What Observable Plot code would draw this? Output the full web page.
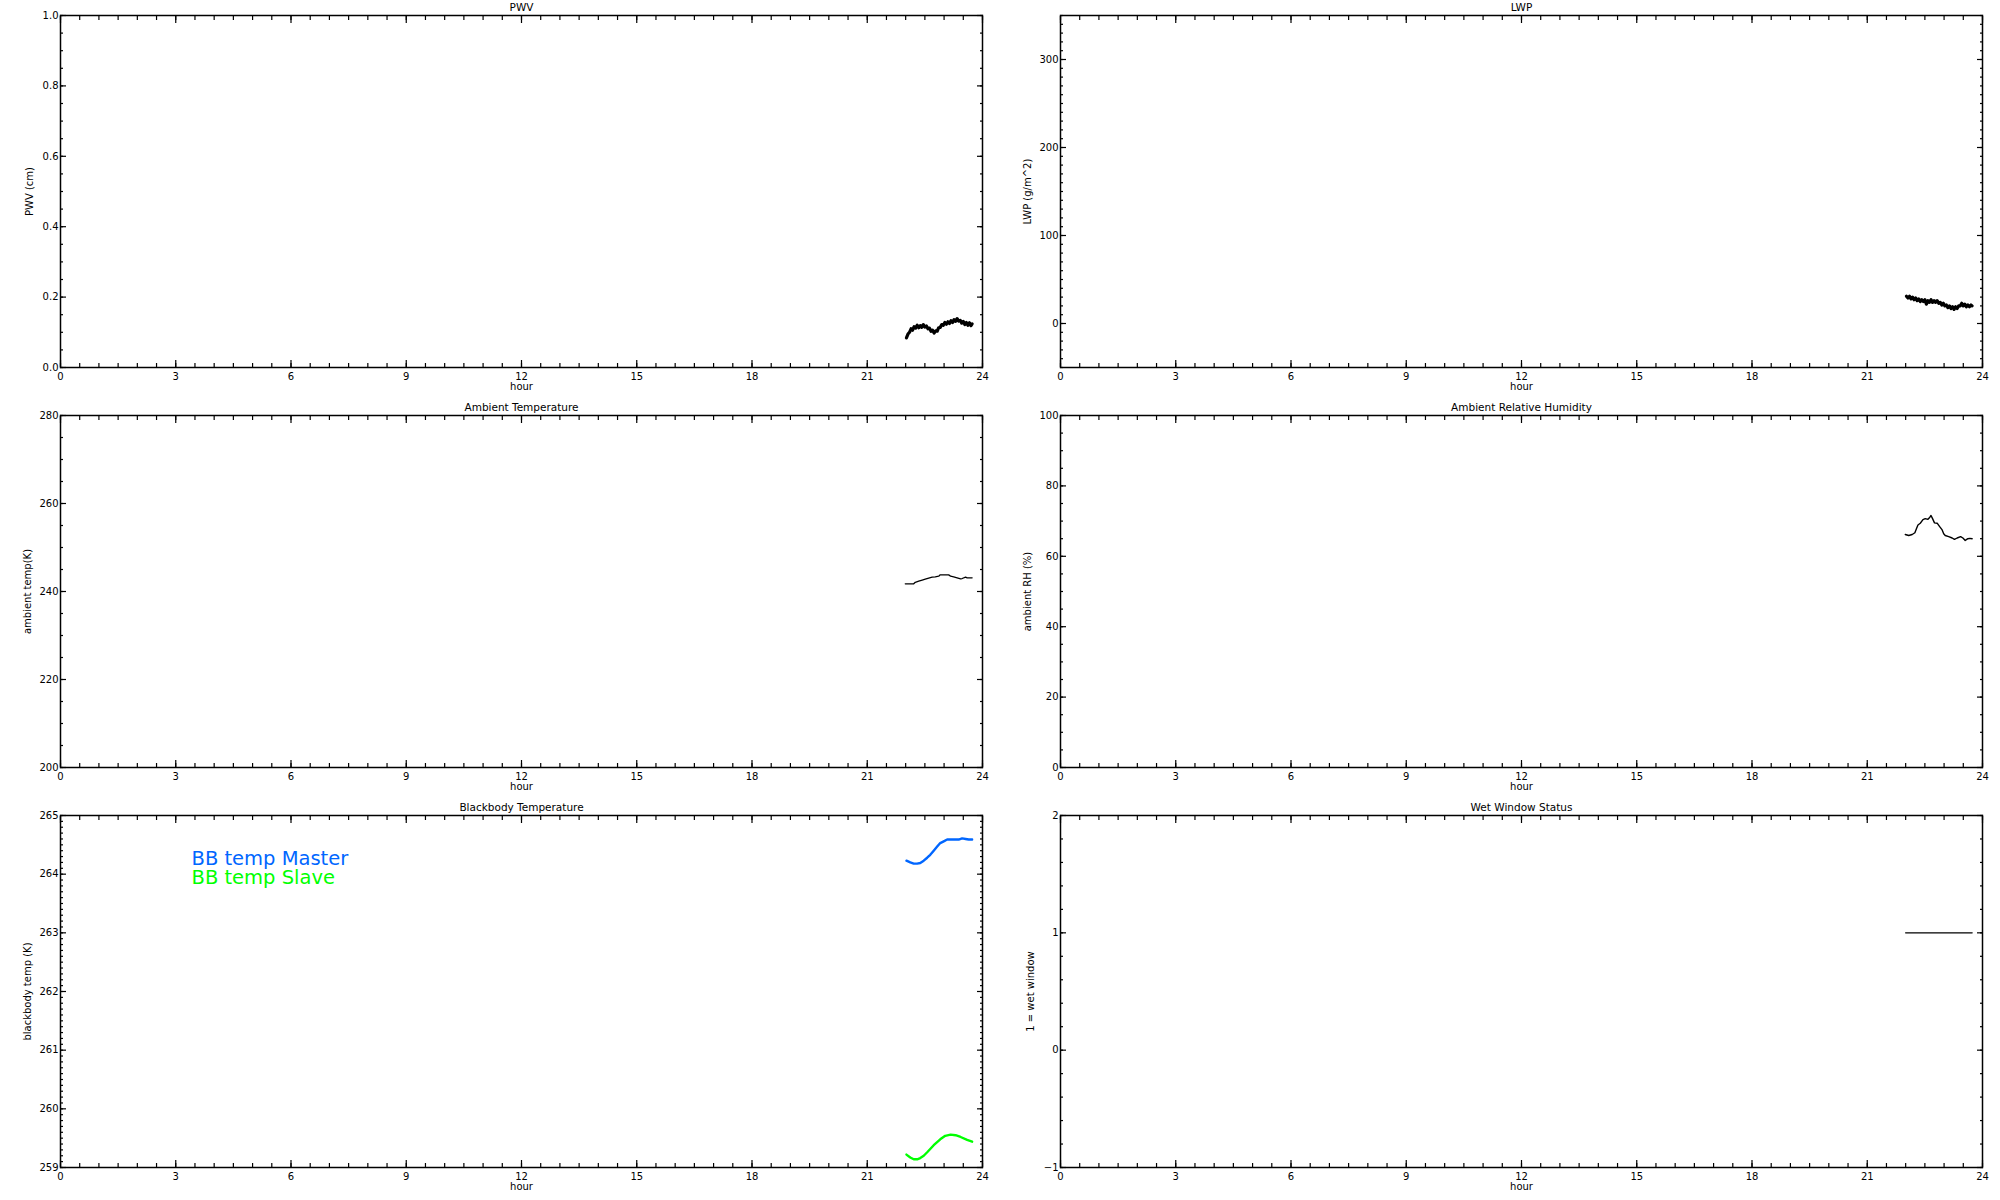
<!DOCTYPE html>
<html><head><meta charset="utf-8">
<script src="https://cdn.jsdelivr.net/npm/d3@7"></script>
<script src="https://cdn.jsdelivr.net/npm/@observablehq/plot@0.6"></script>
<style>
html,body{margin:0;padding:0;background:#fff;}
#root{position:relative;width:2000px;height:1200px;background:#fff;}
.panel{position:absolute;width:1000px;height:400px;}
.panel svg{display:block;}
</style></head><body><div id="root"></div>
<script>
// ---- tick labels / axes ----
const hourTicks = [0, 3, 6, 9, 12, 15, 18, 21, 24];
const pwvTicks = [0, 0.2, 0.4, 0.6, 0.8, 1.0];
const lwpTicks = [0, 100, 200, 300];
const ambTicks = [200, 220, 240, 260, 280];
const rhTicks = [0, 20, 40, 60, 80, 100];
const bbTicks = [259, 260, 261, 262, 263, 264, 265];
const wetTicks = [-1, 0, 1, 2];

// ---- PWV (cm) ----
const pwvHour = [22.02,22.06,22.10,22.14,22.18,22.22,22.26,22.30,22.34,22.38,22.42,22.46,22.50,22.54,22.58,22.62,22.66,22.70,22.74,22.78,22.82,22.86,22.90,22.94,22.98,23.02,23.06,23.10,23.14,23.18,23.22,23.26,23.30,23.34,23.38,23.42,23.46,23.50,23.54,23.58,23.62,23.66,23.70,23.73];
const pwvValue = [0.084,0.095,0.100,0.110,0.106,0.116,0.112,0.120,0.113,0.119,0.114,0.122,0.115,0.118,0.110,0.112,0.103,0.106,0.098,0.104,0.103,0.113,0.114,0.122,0.120,0.128,0.123,0.130,0.125,0.133,0.128,0.136,0.131,0.139,0.132,0.134,0.126,0.131,0.122,0.128,0.120,0.127,0.119,0.124];

// ---- LWP (g/m^2) ----
const lwpHour = pwvHour;
const lwpValue = [31,29,31,28,30,27,29,26,28,25,27,25,27,22,26,24,27,24,26,24,26,23,24,21,23,20,21,18,20,17,19,16,19,17,20,20,23,20,22,19,21,19,21,20];

// ---- Ambient temperature (K) ----
const ambHour = [21.99,22.21,22.25,22.34,22.43,22.51,22.60,22.69,22.77,22.86,22.90,23.03,23.12,23.17,23.25,23.34,23.43,23.47,23.56,23.60,23.73];
const ambValue = [241.75,241.75,242.1,242.35,242.58,242.8,243.03,243.26,243.33,243.48,243.78,243.78,243.78,243.48,243.33,243.11,242.88,242.95,243.26,243.11,243.11];

// ---- Ambient RH (%) ----
const rhHour = [21.99,22.08,22.17,22.24,22.28,22.32,22.38,22.45,22.51,22.58,22.63,22.66,22.70,22.75,22.82,22.88,22.95,22.99,23.03,23.12,23.21,23.27,23.34,23.43,23.49,23.55,23.62,23.67,23.73];
const rhValue = [66.2,65.9,66.2,66.7,67.8,68.9,69.4,70.4,70.7,70.5,71.1,71.6,70.7,69.5,69.4,68.5,67.5,66.4,65.9,65.6,65.2,64.8,65.2,65.6,65.2,64.5,65.0,65.1,65.0];

// ---- Blackbody temperatures (K) ----
const bbMasterHour = [22.02,22.12,22.21,22.30,22.38,22.47,22.56,22.64,22.73,22.82,22.90,22.99,23.08,23.17,23.25,23.38,23.47,23.56,23.64,23.73];
const bbMasterValue = [264.23,264.20,264.18,264.18,264.19,264.23,264.28,264.33,264.40,264.47,264.53,264.56,264.59,264.59,264.59,264.59,264.61,264.60,264.59,264.59];
const bbSlaveHour = [22.02,22.12,22.21,22.30,22.38,22.47,22.56,22.73,22.90,23.03,23.17,23.30,23.43,23.60,23.73];
const bbSlaveValue = [259.22,259.17,259.14,259.14,259.16,259.20,259.26,259.38,259.48,259.54,259.56,259.55,259.52,259.47,259.44];
const bbSeries = ["BB temp Master", "BB temp Slave"];
const bbColors = ["#0066ff", "#00ff00"];

// ---- Wet window flag ----
const wetHour = [22.0, 23.73];
const wetValue = [1, 1];

const toRows = (xs, ys) => xs.map((h, i) => ({hour: h, value: ys[i]}));
const minus = d => d < 0 ? "\u2212" + String(-d) : String(d);
const hourMinor = d3.range(0, 24.001, 0.5);

function makePanel(cfg) {
  const [y0, y1] = cfg.yDomain;
  const yMinor = d3.range(y0, y1 + cfg.minorStep / 2, cfg.minorStep);
  const tk = {stroke: "black", strokeWidth: 1.2, fill: "none", label: null};
  return Plot.plot({
    width: 1000, height: 400,
    marginLeft: 60, marginRight: 18, marginTop: 15, marginBottom: 33,
    style: {fontFamily: "'DejaVu Sans', sans-serif", fontSize: "10px", color: "black", background: "white", overflow: "visible"},
    x: {domain: [0, 24]},
    y: {domain: cfg.yDomain},
    marks: [
      Plot.axisX({anchor: "bottom", ticks: hourMinor, tickSize: -4, ...tk}),
      Plot.axisX({anchor: "top", ticks: hourMinor, tickSize: -4, ...tk}),
      Plot.axisX({anchor: "bottom", ticks: hourTicks, tickSize: -7, ...tk}),
      Plot.axisX({anchor: "top", ticks: hourTicks, tickSize: -7, ...tk}),
      Plot.axisX({anchor: "bottom", ticks: hourTicks, tickSize: 0, tickPadding: 5, tickFormat: d => String(d), label: null, fill: "black"}),
      Plot.axisY({anchor: "left", ticks: yMinor, tickSize: -3, ...tk}),
      Plot.axisY({anchor: "right", ticks: yMinor, tickSize: -3, ...tk}),
      Plot.axisY({anchor: "left", ticks: cfg.yTicks, tickSize: -6, ...tk}),
      Plot.axisY({anchor: "right", ticks: cfg.yTicks, tickSize: -6, ...tk}),
      Plot.axisY({anchor: "left", ticks: cfg.yTicks, tickSize: 0, tickPadding: 2, tickFormat: cfg.tickFormat, label: null, fill: "black"}),
      Plot.frame({stroke: "black", strokeWidth: 1.5}),
      Plot.text([cfg.title], {frameAnchor: "top", dy: -12, fontSize: 10.5}),
      Plot.text(["hour"], {frameAnchor: "bottom", dy: 22}),
      Plot.text([cfg.yLabel], {frameAnchor: "left", dx: cfg.yLabelDx, rotate: -90, textAnchor: "middle"}),
      ...cfg.marks
    ]
  });
}

const panels = [
  {left: 0, top: 0, title: "PWV", yLabel: "PWV (cm)", yLabelDx: -31, yDomain: [0, 1], yTicks: pwvTicks, minorStep: 0.05,
   tickFormat: d3.format(".1f"),
   marks: [Plot.line(toRows(pwvHour, pwvValue), {x: "hour", y: "value", stroke: "black", strokeWidth: 3.2})]},
  {left: 1000, top: 0, title: "LWP", yLabel: "LWP (g/m^2)", yLabelDx: -33, yDomain: [-50, 350], yTicks: lwpTicks, minorStep: 10,
   tickFormat: minus,
   marks: [Plot.line(toRows(lwpHour, lwpValue), {x: "hour", y: "value", stroke: "black", strokeWidth: 3.2})]},
  {left: 0, top: 400, title: "Ambient Temperature", yLabel: "ambient temp(K)", yLabelDx: -33, yDomain: [200, 280], yTicks: ambTicks, minorStep: 5,
   tickFormat: minus,
   marks: [Plot.line(toRows(ambHour, ambValue), {x: "hour", y: "value", stroke: "black", strokeWidth: 1.3})]},
  {left: 1000, top: 400, title: "Ambient Relative Humidity", yLabel: "ambient RH (%)", yLabelDx: -33, yDomain: [0, 100], yTicks: rhTicks, minorStep: 5,
   tickFormat: minus,
   marks: [Plot.line(toRows(rhHour, rhValue), {x: "hour", y: "value", stroke: "black", strokeWidth: 1.4})]},
  {left: 0, top: 800, title: "Blackbody Temperature", yLabel: "blackbody temp (K)", yLabelDx: -33, yDomain: [259, 265], yTicks: bbTicks, minorStep: 0.1,
   tickFormat: minus,
   marks: [
     Plot.line(toRows(bbMasterHour, bbMasterValue), {x: "hour", y: "value", stroke: bbColors[0], strokeWidth: 2.4}),
     Plot.line(toRows(bbSlaveHour, bbSlaveValue), {x: "hour", y: "value", stroke: bbColors[1], strokeWidth: 2.4}),
     Plot.text([bbSeries[0]], {frameAnchor: "top-left", dx: 131, dy: 36, textAnchor: "start", fill: bbColors[0], fontSize: 19.5}),
     Plot.text([bbSeries[1]], {frameAnchor: "top-left", dx: 131, dy: 55, textAnchor: "start", fill: bbColors[1], fontSize: 19.5})
   ]},
  {left: 1000, top: 800, title: "Wet Window Status", yLabel: "1 = wet window", yLabelDx: -30, yDomain: [-1, 2], yTicks: wetTicks, minorStep: 0.2,
   tickFormat: minus,
   marks: [Plot.line(toRows(wetHour, wetValue), {x: "hour", y: "value", stroke: "black", strokeWidth: 1.4})]}
];

const root = document.getElementById("root");
for (const cfg of panels) {
  const div = document.createElement("div");
  div.className = "panel";
  div.style.left = cfg.left + "px";
  div.style.top = cfg.top + "px";
  div.appendChild(makePanel(cfg));
  root.appendChild(div);
}
</script>
</body></html>
